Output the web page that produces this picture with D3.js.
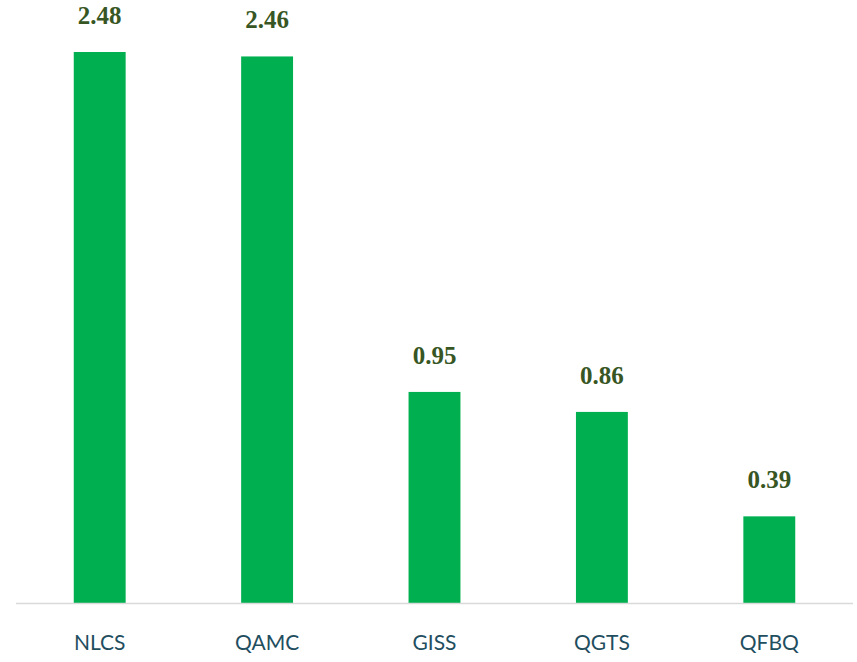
<!DOCTYPE html>
<html><head><meta charset="utf-8">
<script src="https://cdn.jsdelivr.net/npm/d3@7"></script>
<style>body{margin:0;background:#fff}</style>
</head><body>
<svg id="c" width="857" height="662"></svg>
<script>
const categories = ["NLCS","QAMC","GISS","QGTS","QFBQ"];
const values = [2.48,2.46,0.95,0.86,0.39];

const svg = d3.select("#c");
const x = d3.scaleBand().domain(categories).range([16,853]).paddingInner(0.69).paddingOuter(0.345);
const y = d3.scaleLinear().domain([0,2.48]).range([603,52]);

svg.selectAll("rect").data(values).join("rect")
  .attr("x",(d,i)=>x(categories[i])).attr("width",x.bandwidth())
  .attr("y",d=>y(d)).attr("height",d=>y(0)-y(d)).attr("fill","#00b050");

svg.append("line").attr("x1",16).attr("x2",853).attr("y1",603.5).attr("y2",603.5)
  .attr("stroke","#d9d9d9").attr("stroke-width",1.5);

svg.selectAll("text.v").data(values).join("text").attr("class","v")
  .attr("x",(d,i)=>x(categories[i])+x.bandwidth()/2).attr("y",d=>y(d)-28)
  .attr("text-anchor","middle").attr("font-family","Liberation Serif").attr("font-weight","bold")
  .attr("font-size",25).attr("fill","#375623").text(d=>d.toFixed(2));

const ax = svg.append("g").attr("transform","translate(0,603)").call(d3.axisBottom(x).tickSize(0).tickPadding(0));
ax.select(".domain").remove();
ax.selectAll("text").attr("y",47).attr("dy",0).attr("font-family","Lato").attr("font-size",21).attr("fill","#1f4e5f");
</script>
</body></html>
